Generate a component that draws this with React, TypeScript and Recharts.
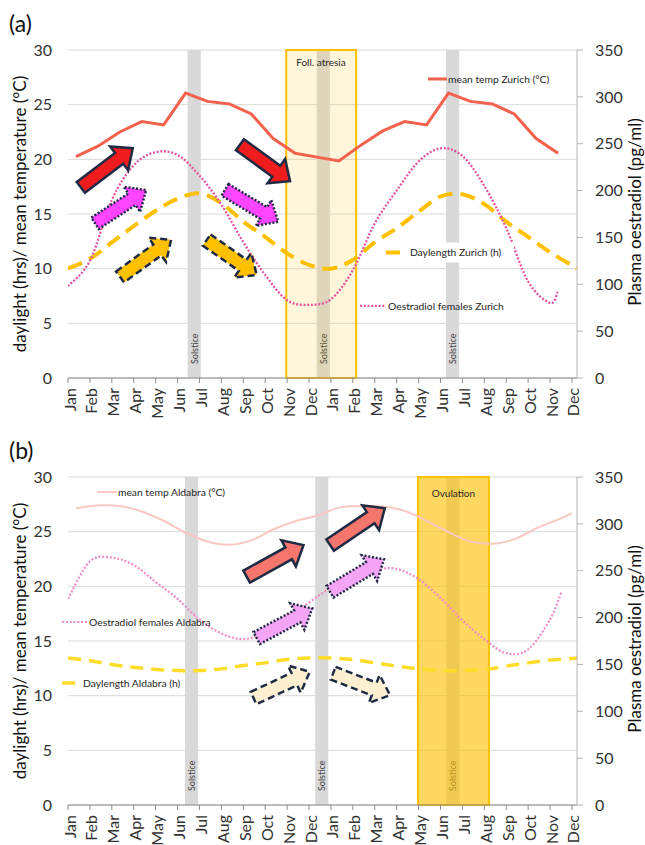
import React from 'react';
import {
  ComposedChart, Line, XAxis, YAxis, CartesianGrid, ReferenceArea, ReferenceDot,
} from 'recharts';

const FONT = 'Lato, "Open Sans", sans-serif';

const MONTHS = ['Jan', 'Feb', 'Mar', 'Apr', 'May', 'Jun', 'Jul', 'Aug', 'Sep', 'Oct', 'Nov', 'Dec'];
const MONTH_TICKS = [0, 1, 2, 3, 4, 5, 6, 7, 8, 9, 10, 11, 12, 13, 14, 15, 16, 17, 18, 19, 20, 21, 22, 23];
const X_END = 23.23;
const LEFT_TICKS = [0, 5, 10, 15, 20, 25, 30];
const RIGHT_TICKS = [0, 50, 100, 150, 200, 250, 300, 350];
const TEMP_SHIFT = 0.365; // temperatures sit a little right of the month tick

// (a) Zurich
const tempZurich = [20.25, 21.2, 22.5, 23.45, 23.15, 26.05, 25.3, 25.07, 24.15, 21.9, 20.55, 20.2, 19.85, 21.3, 22.6, 23.45, 23.15, 26.05, 25.3, 25.07, 24.15, 21.9, 20.55];
const dayZurich = [10.0, 10.9, 12.4, 13.9, 15.3, 16.4, 16.9, 16.0, 14.3, 12.9, 11.4, 10.35, 10.0, 10.8, 12.4, 13.7, 15.2, 16.6, 16.8, 15.9, 14.3, 12.9, 11.5, 10.3];
const dayZurichEnd = 10.0;
const oestZurich = [98, 125, 190, 227, 241, 238, 216, 185, 145, 110, 83, 78, 84, 115, 165, 200, 231, 245, 237, 205, 160, 103, 80];
const oestZurichLast = { m: 22.35, v: 92 };
const solsticeZurich = [5.76, 11.65, 17.55];
const atresiaSpan = [9.96, 13.15];

// (b) Aldabra
const tempAldabra = [27.14, 27.4, 27.35, 26.85, 26.0, 24.9, 24.1, 23.8, 24.2, 25.2, 25.95, 26.45, 27.2, 27.35, 27.3, 26.9, 26.0, 24.95, 24.1, 23.9, 24.3, 25.3, 26.1];
const tempAldabraLast = { m: 23.0, v: 26.7 };
const dayAldabra = [13.45, 13.2, 12.85, 12.6, 12.4, 12.3, 12.3, 12.45, 12.75, 13.0, 13.3, 13.45, 13.45, 13.3, 13.0, 12.7, 12.45, 12.3, 12.3, 12.4, 12.7, 13.0, 13.25, 13.4];
const dayAldabraEnd = 13.45;
const oestAldabra = [220, 260, 264, 256, 238, 220, 198, 183, 177, 184, 200, 216, 232, 244, 251, 252, 241, 221, 197, 177, 162, 166, 198];
const oestAldabraLast = { m: 22.53, v: 228 };
const solsticeAldabra = [5.64, 11.58, 17.57];
const ovulationSpan = [15.97, 19.21];

const pts = (vals: number[], shift = 0) => vals.map((v, i) => ({ m: i + shift, v }));

// Excel-like smoothed line (Catmull-Rom through the points)
const smooth = (context: any) => {
  let p: number[][] = [];
  return {
    areaStart() {}, areaEnd() {},
    lineStart() { p = []; },
    point(x: number, y: number) { p.push([+x, +y]); },
    lineEnd() {
      if (!p.length) return;
      context.moveTo(p[0][0], p[0][1]);
      for (let i = 0; i < p.length - 1; i++) {
        const a = p[i - 1] || p[i], b = p[i], c = p[i + 1], d = p[i + 2] || c;
        context.bezierCurveTo(
          b[0] + (c[0] - a[0]) / 6, b[1] + (c[1] - a[1]) / 6,
          c[0] - (d[0] - b[0]) / 6, c[1] - (d[1] - b[1]) / 6,
          c[0], c[1],
        );
      }
    },
  };
};

const ST = {
  tempZ: { stroke: '#f4614c', strokeWidth: 3 },
  dayZ: { stroke: '#ffc000', strokeWidth: 4, strokeDasharray: '15 8' },
  oestZ: { stroke: '#e4539e', strokeWidth: 2.3, strokeDasharray: '2 1.7' },
  tempA: { stroke: '#f9c8c0', strokeWidth: 2 },
  dayA: { stroke: '#fddc2a', strokeWidth: 3.5, strokeDasharray: '13 8' },
  oestA: { stroke: '#f08cc4', strokeWidth: 2.2, strokeDasharray: '2 1.8' },
};

const ARROW = {
  red: { fill: '#ee1c1c' },
  magenta: { fill: '#ff45ff', dash: '2 1.8' },
  orange: { fill: '#ffc000', dash: '7 4' },
  salmon: { fill: '#f4766c' },
  pink: { fill: '#f6a4f6', dash: '2 1.8' },
  cream: { fill: '#fdf0d0', dash: '7 4' },
};

// arrow annotations, centre given in month / °C
const arrowsZurich = [
  { m: 1.77, v: 19.23, angle: -37, len: 65, kind: 'red' },
  { m: 8.99, v: 19.67, angle: 36, len: 62, kind: 'red' },
  { m: 2.4, v: 15.67, angle: -33, len: 61, kind: 'magenta' },
  { m: 8.38, v: 15.75, angle: 31, len: 62, kind: 'magenta' },
  { m: 3.54, v: 10.94, angle: -36, len: 63, kind: 'orange' },
  { m: 7.47, v: 11.02, angle: 35, len: 61, kind: 'orange' },
];
const arrowsAldabra = [
  { m: 9.45, v: 22.33, angle: -29, len: 65, kind: 'salmon' },
  { m: 13.21, v: 25.46, angle: -34, len: 66, kind: 'salmon' },
  { m: 9.88, v: 16.62, angle: -28, len: 63, kind: 'pink' },
  { m: 13.19, v: 20.99, angle: -31, len: 63, kind: 'pink' },
  { m: 9.75, v: 10.98, angle: -25, len: 62, kind: 'cream' },
  { m: 13.4, v: 11.05, angle: 21, len: 61, kind: 'cream' },
];

const keysZurich = [
  { m: 16.43, v: 27.35, text: 'mean temp Zurich (°C)', style: ST.tempZ, len: 19, gap: 20 },
  { m: 14.51, v: 11.48, text: 'Daylength Zurich (h)', style: ST.dayZ, len: 14, gap: 24, bg: 134 },
  { m: 13.33, v: 6.59, text: 'Oestradiol females Zurich', style: ST.oestZ, len: 25, gap: 28 },
];
const keysAldabra = [
  { m: 1.32, v: 28.63, text: 'mean temp Aldabra (°C)', style: ST.tempA, len: 20, gap: 21 },
  { m: -0.27, v: 16.74, text: 'Oestradiol females Aldabra', style: ST.oestA, len: 26, gap: 27 },
  { m: -0.27, v: 11.16, text: 'Daylength Aldabra (h)', style: ST.dayA, len: 20, gap: 21 },
];

function MonthTick({ x, y, payload }: any) {
  return (
    <text x={x + 1} y={y} transform={`rotate(-90 ${x + 1} ${y})`} textAnchor="end" dominantBaseline="central"
      fontSize={16} fill="#333" fontFamily={FONT}>
      {MONTHS[payload.value % 12]}
    </text>
  );
}

function SolsticeBar(p: any) {
  const tx = p.x + p.width / 2, ty = p.y + p.height - 14;
  return (
    <g>
      <rect x={p.x} y={p.y} width={p.width} height={p.height} fill="#d9d9d9" />
      <text x={tx} y={ty} transform={`rotate(-90 ${tx} ${ty})`} dominantBaseline="central"
        fontSize={9} fill="#404040" fontFamily={FONT}>Solstice</text>
    </g>
  );
}

function PeriodBox({ x, y, width, height, opacity, text, centred }: any) {
  return (
    <g>
      <rect x={x} y={y} width={width} height={height} fill="#ffc000" fillOpacity={opacity} stroke="#ffc000" strokeWidth={2} />
      <text x={centred ? x + width / 2 : x + 10} y={y + (centred ? 16 : 12)} textAnchor={centred ? 'middle' : 'start'}
        dominantBaseline="central" fontSize={10} fill="#262626" fontFamily={FONT}>{text}</text>
    </g>
  );
}

function Arrow({ cx, cy, angle, len, kind }: any) {
  const st = (ARROW as any)[kind];
  const h = len / 2, bw = 6.8, hw = 15, hl = 17;
  const points = [[-h, -bw], [h - hl, -bw], [h - hl, -hw], [h, 0], [h - hl, hw], [h - hl, bw], [-h, bw]]
    .map(p => p.join(',')).join(' ');
  return (
    <polygon points={points} transform={`translate(${cx} ${cy}) rotate(${angle})`} fill={st.fill}
      stroke="#1f2a44" strokeWidth={2.5} strokeDasharray={st.dash} strokeLinejoin="miter" />
  );
}

function KeyLabel({ cx, cy, k }: any) {
  return (
    <g>
      {k.bg && <rect x={cx - 6} y={cy - 10} width={k.bg} height={20} fill="#fff" />}
      <line x1={cx} x2={cx + k.len} y1={cy} y2={cy} {...k.style} />
      <text x={cx + k.gap} y={cy} dominantBaseline="central" fontSize={10.3} fill="#262626" fontFamily={FONT}>{k.text}</text>
    </g>
  );
}

function Panel({ letter, top, height, plotTop, axisH, lines, solstices, box, arrows, keys }: any) {
  const mid = plotTop + (height - axisH - plotTop) / 2;
  return (
    <div style={{ position: 'absolute', left: 0, top, width: 645, height }}>
      <div style={{ position: 'absolute', left: 9, top: plotTop - 38, fontSize: 23, lineHeight: '23px', color: '#111' }}>{letter}</div>
      <div style={{
        position: 'absolute', left: 20 - 180, top: mid - 11, width: 360, textAlign: 'center', fontSize: 17,
        lineHeight: '22px', transform: 'rotate(-90deg)', color: '#111', whiteSpace: 'nowrap',
      }}>daylight (hrs)/ mean temperature (°C)</div>
      <div style={{
        position: 'absolute', left: 635 - 150, top: mid - 13, width: 300, textAlign: 'center', fontSize: 17,
        lineHeight: '22px', transform: 'rotate(-90deg)', color: '#111', whiteSpace: 'nowrap',
      }}>Plasma oestradiol (pg/ml)</div>
      <ComposedChart width={645} height={height} margin={{ top: plotTop, right: 0, bottom: 0, left: 0 }}
        style={{ position: 'absolute', left: 0, top: 0 }}>
        <CartesianGrid yAxisId="L" vertical={false} stroke="#d9d9d9" />
        <XAxis type="number" dataKey="m" domain={[0, X_END]} ticks={MONTH_TICKS} allowDataOverflow interval={0}
          height={axisH} tick={<MonthTick />} tickSize={5} tickMargin={5} stroke="#8c8c8c" />
        <YAxis yAxisId="L" domain={[0, 30]} ticks={LEFT_TICKS} width={68} axisLine={false} tickLine={false}
          tickSize={0} tickMargin={16} tick={{ fontSize: 16, fill: '#333', fontFamily: FONT }} />
        <YAxis yAxisId="R" orientation="right" domain={[0, 350]} ticks={RIGHT_TICKS} width={68} stroke="#b4b4b4"
          tickSize={6} tickMargin={12} tick={{ fontSize: 16, fill: '#333', fontFamily: FONT }} />
        {solstices.map((s: number) => (
          <ReferenceArea key={s} yAxisId="L" x1={s - 0.3} x2={s + 0.3} shape={SolsticeBar} />
        ))}
        <ReferenceArea yAxisId="L" x1={box.span[0]} x2={box.span[1]}
          shape={(p: any) => <PeriodBox {...p} opacity={box.opacity} text={box.text} centred={box.centred} />} />
        {lines.map((l: any) => (
          <Line key={l.id} data={l.data} dataKey="v" yAxisId={l.axis} type={l.curve} dot={false} activeDot={false}
            isAnimationActive={false} strokeLinecap="butt" {...l.style} />
        ))}
        {arrows.map((a: any, i: number) => (
          <ReferenceDot key={'a' + i} yAxisId="L" x={a.m} y={a.v} r={1} ifOverflow="visible"
            shape={(p: any) => <Arrow cx={p.cx} cy={p.cy} {...a} />} />
        ))}
        {keys.map((k: any, i: number) => (
          <ReferenceDot key={'k' + i} yAxisId="L" x={k.m} y={k.v} r={1} ifOverflow="visible"
            shape={(p: any) => <KeyLabel cx={p.cx} cy={p.cy} k={k} />} />
        ))}
      </ComposedChart>
    </div>
  );
}

export default function App() {
  const linesA = [
    { id: 'dayZ', data: [...pts(dayZurich), { m: X_END, v: dayZurichEnd }], axis: 'L', curve: smooth, style: ST.dayZ },
    { id: 'oestZ', data: [...pts(oestZurich), oestZurichLast], axis: 'R', curve: smooth, style: ST.oestZ },
    { id: 'tempZ', data: pts(tempZurich, TEMP_SHIFT), axis: 'L', curve: 'linear', style: ST.tempZ },
  ];
  const linesB = [
    { id: 'tempA', data: [...pts(tempAldabra, TEMP_SHIFT), tempAldabraLast], axis: 'L', curve: smooth, style: ST.tempA },
    { id: 'dayA', data: [...pts(dayAldabra), { m: X_END, v: dayAldabraEnd }], axis: 'L', curve: smooth, style: ST.dayA },
    { id: 'oestA', data: [...pts(oestAldabra), oestAldabraLast], axis: 'R', curve: smooth, style: ST.oestA },
  ];
  return (
    <div style={{ position: 'absolute', left: 0, top: 0, width: 645, height: 845, background: '#fff', fontFamily: FONT, overflow: 'hidden' }}>
      <Panel letter="(a)" top={0} height={430} plotTop={50} axisH={52} lines={linesA} solstices={solsticeZurich}
        box={{ span: atresiaSpan, opacity: 0.14, text: 'Foll. atresia', centred: false }}
        arrows={arrowsZurich} keys={keysZurich} />
      <Panel letter="(b)" top={420} height={425} plotTop={57} axisH={40} lines={linesB} solstices={solsticeAldabra}
        box={{ span: ovulationSpan, opacity: 0.62, text: 'Ovulation', centred: true }}
        arrows={arrowsAldabra} keys={keysAldabra} />
    </div>
  );
}
